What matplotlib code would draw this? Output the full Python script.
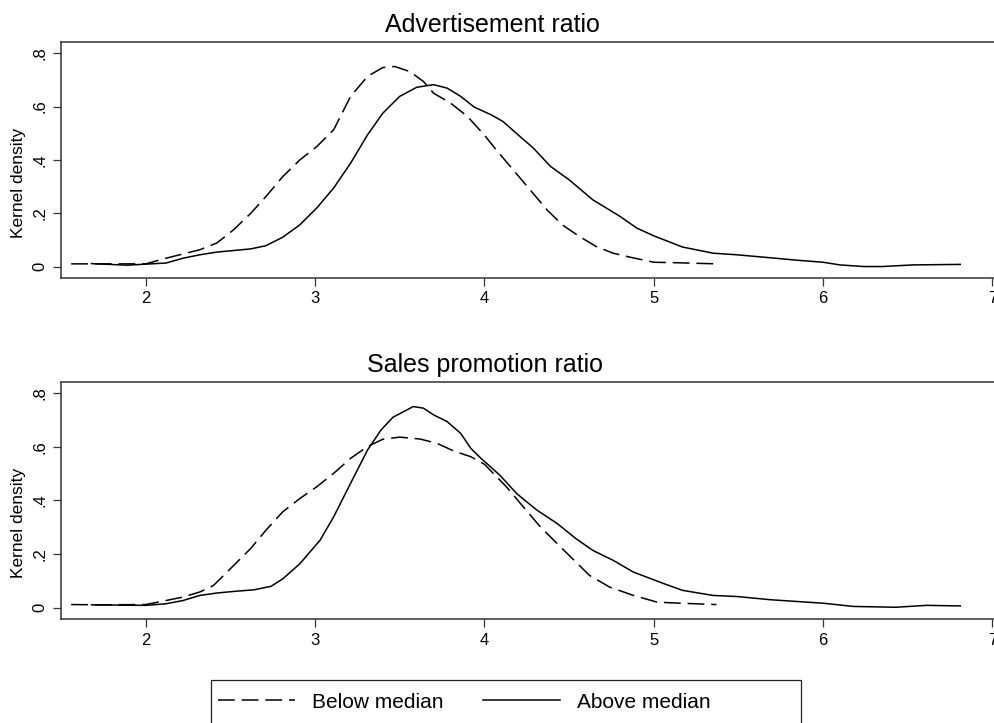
import matplotlib
matplotlib.use('Agg')
import matplotlib.pyplot as plt
from matplotlib.patches import Rectangle


# kernel density estimates, below / above median groups
adv_below_x = [1.56, 1.75, 2.0, 2.12, 2.32, 2.42, 2.52, 2.62, 2.71, 2.81, 2.91, 3.01, 3.11, 3.15,
               3.21, 3.31, 3.40, 3.47, 3.56, 3.64, 3.70, 3.80, 3.90, 4.0, 4.07, 4.17, 4.27, 4.37,
               4.46, 4.56, 4.66, 4.76, 4.86, 5.0, 5.15, 5.37]
adv_below_y = [0.011, 0.011, 0.011, 0.032, 0.064, 0.089, 0.139, 0.2, 0.263, 0.338, 0.4, 0.45, 0.513,
               0.563, 0.638, 0.713, 0.746, 0.75, 0.731, 0.694, 0.65, 0.613, 0.563, 0.493, 0.438,
               0.363, 0.288, 0.213, 0.157, 0.114, 0.076, 0.051, 0.036, 0.017, 0.015, 0.011]

adv_above_x = [1.68, 1.89, 2.0, 2.12, 2.22, 2.32, 2.42, 2.52, 2.62, 2.71, 2.81, 2.91, 3.01, 3.11,
               3.21, 3.31, 3.40, 3.50, 3.60, 3.70, 3.78, 3.86, 3.94, 4.04, 4.11, 4.21, 4.29, 4.39,
               4.50, 4.64, 4.80, 4.90, 5.0, 5.17, 5.35, 5.49, 5.65, 5.84, 6.0, 6.10, 6.24, 6.35,
               6.53, 6.81]
adv_above_y = [0.012, 0.006, 0.01, 0.014, 0.032, 0.045, 0.055, 0.061, 0.067, 0.079, 0.111, 0.157,
               0.22, 0.295, 0.388, 0.494, 0.575, 0.638, 0.672, 0.682, 0.669, 0.638, 0.598, 0.569,
               0.544, 0.488, 0.444, 0.376, 0.326, 0.251, 0.189, 0.145, 0.116, 0.074, 0.051, 0.045,
               0.036, 0.025, 0.017, 0.007, 0.001, 0.001, 0.007, 0.009]

sales_below_x = [1.56, 1.73, 2.0, 2.12, 2.22, 2.32, 2.40, 2.52, 2.62, 2.71, 2.81, 2.91, 3.01, 3.11,
                 3.21, 3.31, 3.40, 3.50, 3.62, 3.72, 3.82, 3.92, 4.0, 4.13, 4.23, 4.33, 4.43, 4.53,
                 4.62, 4.74, 4.88, 5.02, 5.16, 5.37]
sales_below_y = [0.012, 0.011, 0.012, 0.027, 0.04, 0.059, 0.083, 0.158, 0.221, 0.289, 0.358, 0.407,
                 0.451, 0.501, 0.557, 0.601, 0.628, 0.636, 0.629, 0.613, 0.584, 0.563, 0.535, 0.451,
                 0.376, 0.302, 0.239, 0.177, 0.121, 0.077, 0.046, 0.021, 0.017, 0.012]

sales_above_x = [1.68, 2.0, 2.12, 2.22, 2.32, 2.42, 2.52, 2.64, 2.74, 2.81, 2.91, 3.03, 3.11, 3.21,
                 3.31, 3.39, 3.46, 3.58, 3.64, 3.70, 3.78, 3.86, 3.92, 3.98, 4.09, 4.19, 4.31, 4.43,
                 4.54, 4.64, 4.76, 4.88, 5.06, 5.17, 5.35, 5.49, 5.69, 6.0, 6.18, 6.43, 6.61, 6.81]
sales_above_y = [0.011, 0.009, 0.015, 0.027, 0.046, 0.055, 0.061, 0.067, 0.08, 0.108, 0.164, 0.252,
                 0.339, 0.464, 0.588, 0.663, 0.71, 0.75, 0.744, 0.719, 0.694, 0.65, 0.594, 0.557,
                 0.495, 0.426, 0.364, 0.314, 0.258, 0.214, 0.177, 0.133, 0.09, 0.065, 0.046, 0.042,
                 0.03, 0.017, 0.005, 0.002, 0.009, 0.007]

titles = ['Advertisement ratio', 'Sales promotion ratio']
x_ticks = [2, 3, 4, 5, 6, 7]
y_ticks = [0, 0.2, 0.4, 0.6, 0.8]
y_tick_labels = ['0', '.2', '.4', '.6', '.8']
legend_labels = ['Below median', 'Above median']


def main():
  plt.rcParams['font.family'] = ['Liberation Sans', 'DejaVu Sans']
  fig = plt.figure(figsize=(9.95, 7.23), dpi=100)

  ax_top = fig.add_axes([0.0613, 0.6151, 0.9387, 0.3273])
  ax_bot = fig.add_axes([0.0613, 0.1434, 0.9387, 0.3288])

  panels = [
    (ax_top, adv_below_x, adv_below_y, adv_above_x, adv_above_y, titles[0], 0.4615),
    (ax_bot, sales_below_x, sales_below_y, sales_above_x, sales_above_y, titles[1], 0.4540),
  ]

  handles = None
  for ax, bx, by, ax_x, ax_y, title, title_x in panels:
    below, = ax.plot(bx, by, color='black', lw=1.1, dashes=(11, 4.5))
    above, = ax.plot(ax_x, ax_y, color='black', lw=1.1)
    handles = [below, above]

    ax.set_xlim(1.5, 7.015)
    ax.set_ylim(-0.043, 0.843)
    ax.set_xticks(x_ticks)
    ax.set_yticks(y_ticks)
    ax.set_yticklabels(y_tick_labels, rotation=90, va='center')
    ax.tick_params(axis='both', labelsize=12, length=5.5, width=0.9, color='#333333', pad=4)

    for side in ['left', 'bottom', 'top']:
      ax.spines[side].set_color('#333333')
      ax.spines[side].set_linewidth(1.1)
    ax.spines['right'].set_visible(False)

    ax.set_title(title, fontsize=18, x=title_x, pad=7.2)
    ax.set_ylabel('Kernel density', fontsize=12.5)
    ax.yaxis.set_label_coords(-0.0455, 0.404)
    ax.yaxis.label.set_verticalalignment('center')

  ####################################
  # legend row and its box, which runs off the bottom edge
  fig.legend(handles, legend_labels, loc='center left',
             bbox_to_anchor=(218 / 995, 1 - 702 / 723), ncol=2, frameon=False,
             fontsize=15, handlelength=3.7, handletextpad=0.8, columnspacing=1.9,
             borderpad=0, borderaxespad=0)
  fig.add_artist(Rectangle((210.7 / 995, 1 - 740 / 723), 590 / 995, 60 / 723,
                           transform=fig.transFigure, fill=False,
                           edgecolor='#222222', lw=0.9))

  fig.savefig('out.png', dpi=100)


if __name__ == '__main__':
  main()
